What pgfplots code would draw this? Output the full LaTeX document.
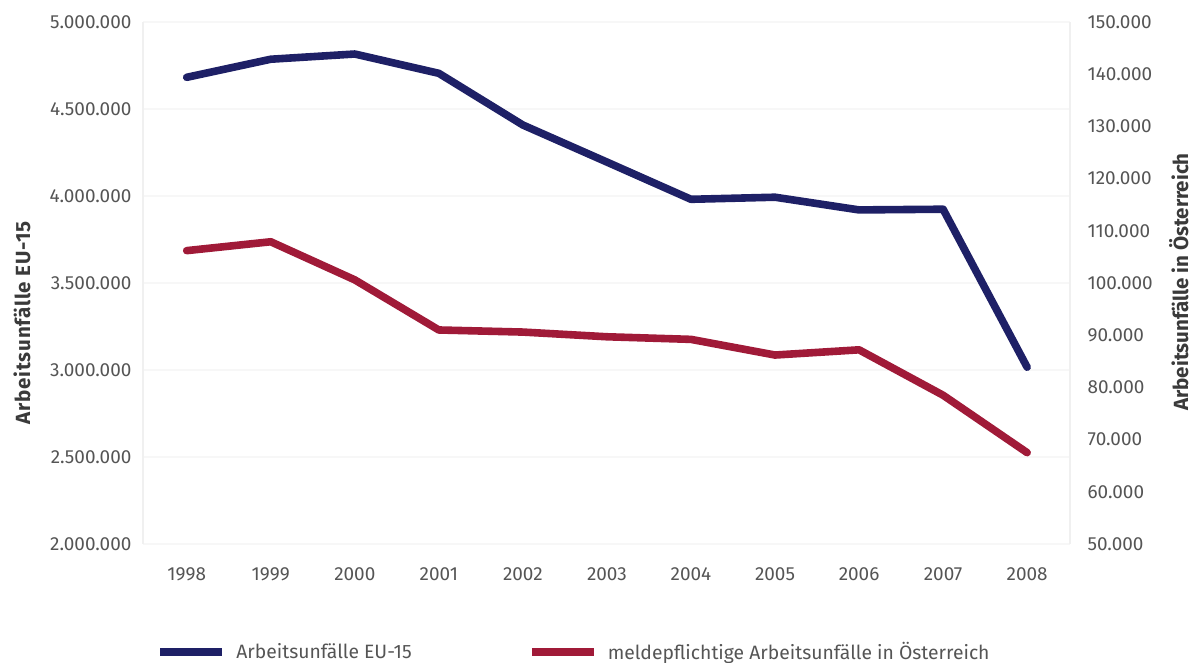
\documentclass[border=0pt]{standalone}
\usepackage{pgfplots}
\pgfplotsset{compat=1.18}
\usepackage{fontspec}
\setmainfont{Fira Sans}

\definecolor{euBlue}{HTML}{1E2066}
\definecolor{atRed}{HTML}{A01A38}
\definecolor{tickGrey}{HTML}{555555}
\definecolor{labelGrey}{HTML}{3A3A3A}

\tikzset{
  sidelabel/.style={rotate=90, anchor=center, text=labelGrey,
    font=\bfseries\fontsize{10.3}{12}\selectfont},
}

\pgfplotsset{
  twinaxis/.style={
    scale only axis,
    width=463.5bp, height=261bp,
    xmin=1997.48, xmax=2008.51,
    xtick={1998,1999,2000,2001,2002,2003,2004,2005,2006,2007,2008},
    axis line style={draw=black!6, line width=0.8pt},
    major tick length=0pt,
    tick style={draw=none},
    tick label style={font=\fontsize{9.5}{11}\selectfont, text=tickGrey},
    scaled y ticks=false,
    /pgf/number format/fixed,
    /pgf/number format/precision=0,
    /pgf/number format/1000 sep={.},
    /pgf/number format/assume math mode=true,
    every axis plot/.append style={line width=3.8bp, line join=round, line cap=round},
  },
}

\begin{document}
\begin{tikzpicture}
\useasboundingbox (-71.5bp,-59.5bp) rectangle (524.5bp,272bp);

% Left axis: accidents at work, EU-15
\begin{axis}[
  twinaxis,
  axis y line*=left,
  axis x line*=bottom,
  x axis line style={draw=none},
  ymin=2000000, ymax=5000000,
  ytick={2000000,2500000,3000000,3500000,4000000,4500000,5000000},
  xticklabels={1998,1999,2000,2001,2002,2003,2004,2005,2006,2007,2008},
  xticklabel style={yshift=-8.3bp},
  yticklabel style={xshift=-2.3bp},
  ymajorgrids,
  grid style={draw=black!3, line width=0.6pt},
  after end axis/.code={
    \node[sidelabel] at (rel axis cs:-0.1305,0.4234)
      {\addfontfeature{LetterSpace=4}Arbeitsunfälle EU-15};
  },
]
\addplot[euBlue] coordinates {
  (1998,4682000) (1999,4786000) (2000,4816000) (2001,4705000)
  (2002,4408000) (2003,4195000) (2004,3981000) (2005,3993000)
  (2006,3920000) (2007,3924000) (2008,3016000)
};
\end{axis}

% Right axis: notifiable accidents at work in Austria
\begin{axis}[
  twinaxis,
  axis y line*=right,
  axis x line=none,
  ymin=50000, ymax=150000,
  ytick={50000,60000,70000,80000,90000,100000,110000,120000,130000,140000,150000},
  yticklabel style={xshift=5.3bp},
  after end axis/.code={
    \node[sidelabel] at (rel axis cs:1.1175,0.502) {Arbeitsunfälle in Österreich};
  },
  legend columns=2,
  legend style={
    draw=none, fill=none,
    at={(rel axis cs:0.0075,-0.2069)}, anchor=west,
    font=\fontsize{9.7}{12}\selectfont, text=tickGrey,
    nodes={inner sep=0pt, anchor=west},
    /tikz/every odd column/.append style={column sep=5bp},
    /tikz/every even column/.append style={column sep=58bp},
  },
  legend image code/.code={\draw[#1, line width=4bp, line cap=butt] (0bp,0bp) -- (31bp,0bp);},
]
\addlegendimage{euBlue}
\addlegendentry{Arbeitsunfälle EU-15}
\addplot[atRed] coordinates {
  (1998,106200) (1999,107900) (2000,100600) (2001,91000)
  (2002,90600) (2003,89700) (2004,89200) (2005,86200)
  (2006,87200) (2007,78500) (2008,67500)
};
\addlegendentry{meldepflichtige Arbeitsunfälle in Österreich}
\end{axis}
\end{tikzpicture}
\end{document}
